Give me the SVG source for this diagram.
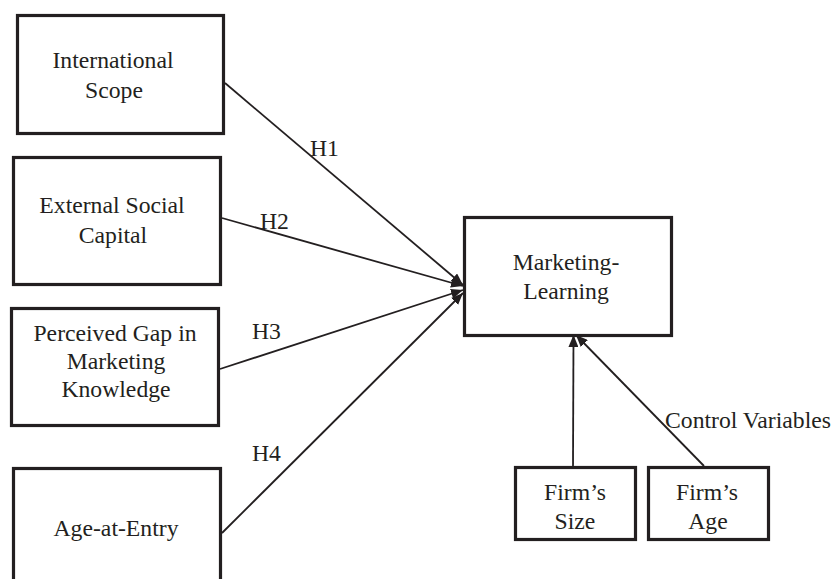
<svg xmlns="http://www.w3.org/2000/svg" width="836" height="579" viewBox="0 0 836 579">
<style>
.box{fill:#fff;stroke:#231f20;stroke-width:3.2}
text{font-family:'Liberation Serif',serif;font-size:23.7px;fill:#231f20}
.t{text-anchor:middle}
.c{stroke:#231f20;stroke-width:1.8;fill:none;marker-end:url(#ah)}
</style>
<defs>
<marker id="ah" markerUnits="userSpaceOnUse" markerWidth="13" markerHeight="10" refX="12" refY="5" orient="auto" viewBox="0 0 13 10">
<path d="M0,0 L12,5 L0,10 z" fill="#231f20"/>
</marker>
</defs>
<rect width="836" height="579" fill="#fff"/>
<g id="connectors">
<path class="c" d="M225,83 L463,285"/>
<path class="c" d="M222,218 L463,286"/>
<path class="c" d="M220,369 L463,290"/>
<path class="c" d="M222,533 L463,293"/>
<path class="c" d="M573,466 L573.5,335"/>
<path class="c" d="M704,466 L576,335"/>
<text x="310" y="156">H1</text>
<text x="260" y="229">H2</text>
<text x="252" y="339">H3</text>
<text x="252" y="461">H4</text>
<text x="665" y="428">Control Variables</text>
</g>
<g id="international-scope">
<rect class="box" x="17.5" y="15.5" width="206" height="118"/>
<text class="t" x="113" y="68">International</text>
<text class="t" x="114" y="98">Scope</text>
</g>
<g id="external-social-capital">
<rect class="box" x="13.5" y="157.5" width="207" height="127"/>
<text class="t" x="112" y="213">External Social</text>
<text class="t" x="113" y="243">Capital</text>
</g>
<g id="perceived-gap">
<rect class="box" x="11.5" y="308.5" width="207" height="117"/>
<text class="t" x="115" y="341">Perceived Gap in</text>
<text class="t" x="116" y="369">Marketing</text>
<text class="t" x="116" y="397">Knowledge</text>
</g>
<g id="age-at-entry">
<rect class="box" x="13.5" y="468.5" width="207" height="130"/>
<text class="t" x="116" y="536">Age-at-Entry</text>
</g>
<g id="marketing-learning">
<rect class="box" x="464.5" y="217.5" width="207" height="118"/>
<text class="t" x="566" y="270">Marketing-</text>
<text class="t" x="566" y="299">Learning</text>
</g>
<g id="firms-size">
<rect class="box" x="515.5" y="467.5" width="120" height="72"/>
<text class="t" x="575" y="500">Firm’s</text>
<text class="t" x="575" y="529">Size</text>
</g>
<g id="firms-age">
<rect class="box" x="648.5" y="467.5" width="120" height="72"/>
<text class="t" x="707" y="500">Firm’s</text>
<text class="t" x="708" y="529">Age</text>
</g>
</svg>
